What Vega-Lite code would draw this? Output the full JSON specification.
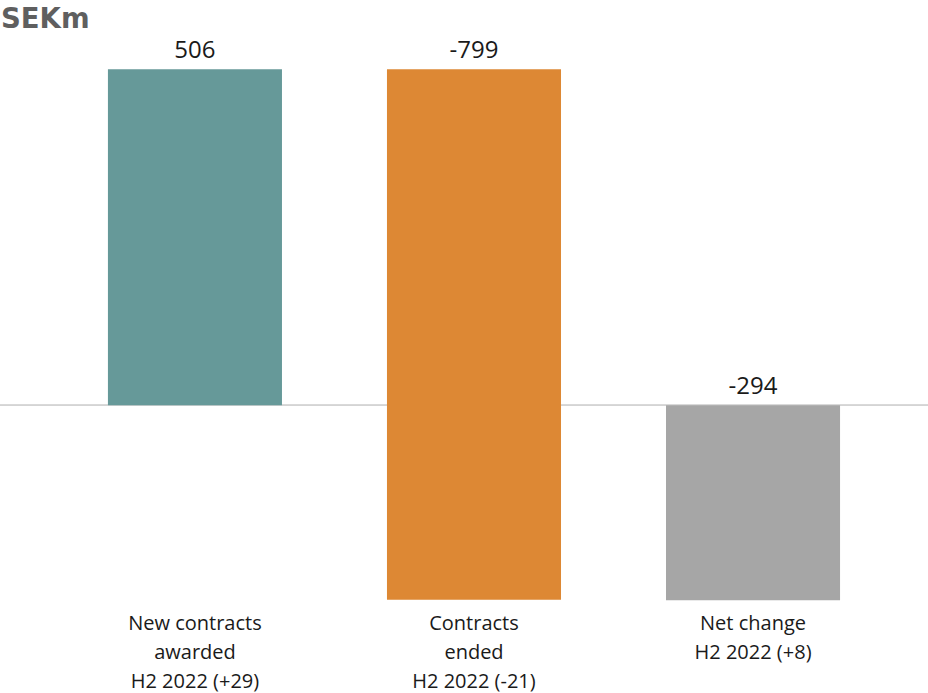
{
  "$schema": "https://vega.github.io/schema/vega-lite/v6.json",
  "width": 928,
  "height": 565,
  "autosize": {"type": "none"},
  "padding": {"top": 40, "left": 0, "right": 0, "bottom": 88},
  "background": "white",
  "title": {
    "text": "SEKm",
    "anchor": "start",
    "frame": "group",
    "font": "DejaVu Sans",
    "fontSize": 27.5,
    "fontWeight": "bold",
    "color": "#5f5f5f",
    "baseline": "alphabetic",
    "offset": -16,
    "dx": 1
  },
  "config": {"view": {"stroke": null}, "font": "Open Sans"},
  "data": {
    "values": [
      {"category": "New contracts\nawarded\nH2 2022 (+29)", "start": 0, "end": 506, "top": 506, "label": "506", "color": "#669999"},
      {"category": "Contracts\nended\nH2 2022 (-21)", "start": 506, "end": -293, "top": 506, "label": "-799", "color": "#DD8834"},
      {"category": "Net change\nH2 2022 (+8)", "start": 0, "end": -294, "top": 0, "label": "-294", "color": "#A6A6A6"}
    ]
  },
  "encoding": {
    "x": {
      "field": "category",
      "type": "nominal",
      "sort": null,
      "scale": {"paddingInner": 0.3763, "paddingOuter": 0.351, "align": 0.551},
      "axis": {
        "title": null,
        "labelAngle": 0,
        "labelExpr": "split(datum.label, '\\n')",
        "labelFont": "Open Sans",
        "labelFontSize": 20,
        "labelLineHeight": 29,
        "labelColor": "#1a1a1a",
        "labelPadding": 8,
        "labelBaseline": "top",
        "domain": false,
        "ticks": false,
        "grid": false
      }
    }
  },
  "layer": [
    {
      "mark": {"type": "rule", "color": "#d4d4d4", "strokeWidth": 1.5},
      "encoding": {"y": {"datum": 0, "type": "quantitative", "scale": {"domain": [-301, 550], "nice": false, "zero": false}, "axis": null}, "x": {"value": 0}, "x2": {"value": 928}}
    },
    {
      "mark": {"type": "bar"},
      "encoding": {
        "y": {"field": "start", "type": "quantitative"},
        "y2": {"field": "end"},
        "color": {"field": "color", "type": "nominal", "scale": null}
      }
    },
    {
      "mark": {"type": "text", "fontSize": 24, "baseline": "alphabetic", "dy": -11, "color": "#1a1a1a"},
      "encoding": {
        "y": {"field": "top", "type": "quantitative"},
        "text": {"field": "label"}
      }
    }
  ]
}
